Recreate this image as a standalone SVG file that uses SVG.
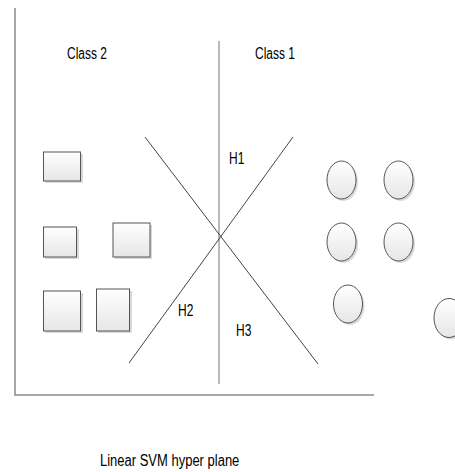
<svg xmlns="http://www.w3.org/2000/svg" width="455" height="472" viewBox="0 0 455 472">
<defs>
<linearGradient id="g" x1="0" y1="0" x2="0" y2="1">
<stop offset="0" stop-color="#ffffff"/>
<stop offset="1" stop-color="#e6e6e6"/>
</linearGradient>
</defs>
<style>
.ax{stroke:#8a8a8a;stroke-width:1.5;fill:none}
.v{stroke:#8a8a8a;stroke-width:1.2;fill:none}
.d{stroke:#444;stroke-width:1;fill:none}
.sh{fill:#d9d9d9}
.s{fill:url(#g);stroke:#555;stroke-width:1}
.t{font-family:"Liberation Sans",Arial,sans-serif;font-size:12px;fill:#000}
</style>
<rect width="455" height="472" fill="#fff"/>
<g id="axes">
<path class="ax" d="M15 8 V395 H374"/>
</g>
<g id="connectors">
<path class="v" d="M219 41 V384"/>
<path class="d" d="M145 137 L318 364"/>
<path class="d" d="M293 137 L129 363"/>
</g>
<g id="sq1"><rect class="sh" x="45" y="154" width="38" height="29"/><rect class="s" x="43.5" y="152" width="37" height="29"/></g>
<g id="sq2"><rect class="sh" x="45" y="229" width="34" height="30"/><rect class="s" x="43.5" y="227" width="33" height="30"/></g>
<g id="sq3"><rect class="sh" x="115" y="225" width="37" height="34"/><rect class="s" x="113" y="223" width="37" height="34"/></g>
<g id="sq4"><rect class="sh" x="45" y="293" width="38" height="40"/><rect class="s" x="43.5" y="291" width="37" height="40"/></g>
<g id="sq5"><rect class="sh" x="98" y="291" width="34" height="42"/><rect class="s" x="96.5" y="289" width="33" height="42"/></g>
<g id="c1"><ellipse class="sh" cx="343.5" cy="182" rx="14.5" ry="19"/><ellipse class="s" cx="341.5" cy="180" rx="14.5" ry="19"/></g>
<g id="c2"><ellipse class="sh" cx="400.5" cy="182" rx="14.5" ry="19"/><ellipse class="s" cx="398.5" cy="180" rx="14.5" ry="19"/></g>
<g id="c3"><ellipse class="sh" cx="343.5" cy="244" rx="14.5" ry="19"/><ellipse class="s" cx="341.5" cy="242" rx="14.5" ry="19"/></g>
<g id="c4"><ellipse class="sh" cx="400.5" cy="244" rx="14.5" ry="19"/><ellipse class="s" cx="398.5" cy="242" rx="14.5" ry="19"/></g>
<g id="c5"><ellipse class="sh" cx="350" cy="306" rx="14.5" ry="19"/><ellipse class="s" cx="348" cy="304" rx="14.5" ry="19"/></g>
<g id="c6"><ellipse class="sh" cx="451" cy="320" rx="15" ry="19.5"/><ellipse class="s" cx="449" cy="318" rx="15" ry="19.5"/></g>
<g id="labels">
<text class="t" transform="translate(67 59) scale(1 1.3)">Class 2</text>
<text class="t" transform="translate(255 59) scale(1 1.3)">Class 1</text>
<text class="t" transform="translate(229 164) scale(1 1.3)">H1</text>
<text class="t" transform="translate(178 316) scale(1 1.3)">H2</text>
<text class="t" transform="translate(236 336) scale(1 1.3)">H3</text>
<text class="t" style="font-size:13px" transform="translate(100 466) scale(1 1.2)">Linear SVM hyper plane</text>
</g>
</svg>
